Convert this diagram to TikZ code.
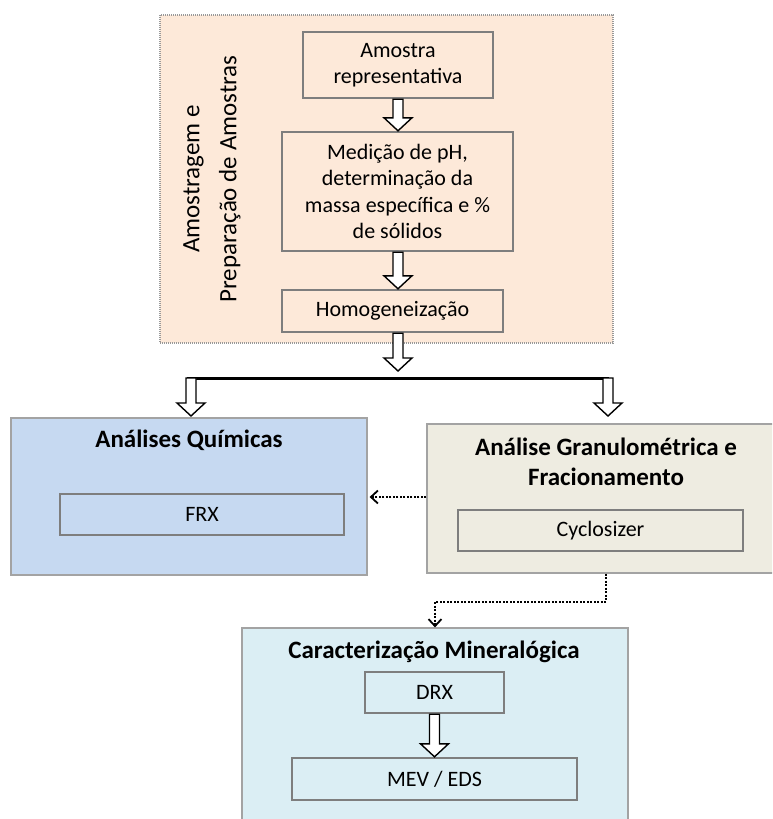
\documentclass[tikz,border=0pt]{standalone}
\usepackage{fontspec}
\setmainfont{Carlito}
\usetikzlibrary{calc,arrows.meta}

\definecolor{peach}{HTML}{FDE9D9}
\definecolor{chemblue}{HTML}{C6D9F1}
\definecolor{granbeige}{HTML}{EEECE1}
\definecolor{minblue}{HTML}{DBEEF4}
\definecolor{innerline}{HTML}{7E7E7E}
\definecolor{outerline}{HTML}{A3A3A3}

\tikzset{
  bodytext/.style={font=\fontsize{22}{26.5}\selectfont, align=center},
  titletext/.style={font=\fontsize{25}{30}\selectfont\bfseries, align=center},
  stagebox/.style={rectangle, draw=innerline, line width=2.4pt, inner sep=0pt, bodytext},
  groupbox/.style={rectangle, draw=outerline, line width=1.2pt, inner sep=0pt},
  dotline/.style={draw=black, line width=2.2pt, dash pattern=on 2pt off 1.5pt},
  dottip/.style={-{Straight Barb[length=7pt,width=13pt,line width=1.8pt]}},
  blockarrow/.style={draw=black, line width=1.4pt, fill=white, line join=miter,
    to path={let \p1=(\tikztostart), \p2=(\tikztotarget) in
      (\x1-5pt,\y1) -- (\x1+5pt,\y1) -- (\x1+5pt,\y2+13pt) -- (\x1+14pt,\y2+13pt)
      -- (\x1,\y2) -- (\x1-14pt,\y2+13pt) -- (\x1-5pt,\y2+13pt) -- cycle}}
}

\begin{document}
\begin{tikzpicture}[x=1pt,y=-1pt]
\useasboundingbox (0,0) rectangle (772,819);
\clip (0,0) rectangle (772,819);

% sampling and preparation group
\node[groupbox, fill=peach, draw=gray!80, line width=1.2pt, dash pattern=on 1pt off 1pt,
      minimum width=453pt, minimum height=328pt] (prep) at (386.5,179) {};
\node[rotate=90, align=center, font=\fontsize{25}{37}\selectfont] (preplabel) at (212,179)
  {Amostragem e\\Preparação de Amostras};

\node[stagebox, fill=peach, minimum width=190pt, minimum height=66pt] (amostra) at (398,65)
  {Amostra\\representativa};
\node[stagebox, fill=peach, minimum width=231pt, minimum height=119pt] (medicao) at (397.5,191.5)
  {Medição de pH,\\determinação da\\massa específica e \%\\de sólidos};
\node[stagebox, fill=peach, minimum width=221pt, minimum height=42pt] (homog) at (392.5,311)
  {Homogeneização};

% chemical analyses
\node[groupbox, fill=chemblue, minimum width=356pt, minimum height=157pt] (quim) at (189,496.5) {};
\node[titletext] (quimT) at (189,440) {Análises Químicas};
\node[stagebox, fill=chemblue, minimum width=284pt, minimum height=41pt] (frx) at (202,514.5) {FRX};

% size analysis and fractionation
\node[groupbox, fill=granbeige, minimum width=358pt, minimum height=149pt] (gran) at (606,498.5) {};
\node[titletext] (granT) at (606,462) {Análise Granulométrica e\\Fracionamento};
\node[stagebox, fill=granbeige, minimum width=285pt, minimum height=41pt] (cyclo) at (600.5,530.5) {Cyclosizer};

% mineralogical characterisation
\node[groupbox, fill=minblue, minimum width=386pt, minimum height=212pt] (mineral) at (435,734) {};
\node[titletext] (mineralT) at (434,652) {Caracterização Mineralógica};
\node[stagebox, fill=minblue, minimum width=139pt, minimum height=41pt] (drx) at (434.5,692.5) {DRX};
\node[stagebox, fill=minblue, minimum width=285pt, minimum height=42pt] (mev) at (434.5,779) {MEV / EDS};

% axis of the preparation flow and the splitting bar
\coordinate (ax) at (398,0);
\coordinate (htip) at (398,371);
\coordinate (barL) at (187,378);
\coordinate (barR) at (609,378);
\coordinate (aL) at (191,378);
\coordinate (aR) at (608,378);
\coordinate (tL) at (191,416);
\coordinate (tR) at (608,416);
\coordinate (dy) at (0,497);

\draw[blockarrow] (amostra.south -| ax) to (medicao.north -| ax);
\draw[blockarrow] (medicao.south -| ax) to (homog.north -| ax);
\draw[line width=3pt] (barL) -- (barR);
\draw[blockarrow] (homog.south -| ax) to (htip);
\draw[blockarrow] (aL) to (tL);
\draw[blockarrow] (aR) to (tR);

\draw[blockarrow] (drx.south -| mev.north) to (mev.north);

% dotted links
\draw[dotline, dottip] (gran.west |- dy) -- ([xshift=2pt]quim.east |- dy);
\draw[dotline, dottip] (gran.south) -- ++(0,28) -| (mineral.north);
\end{tikzpicture}
\end{document}
